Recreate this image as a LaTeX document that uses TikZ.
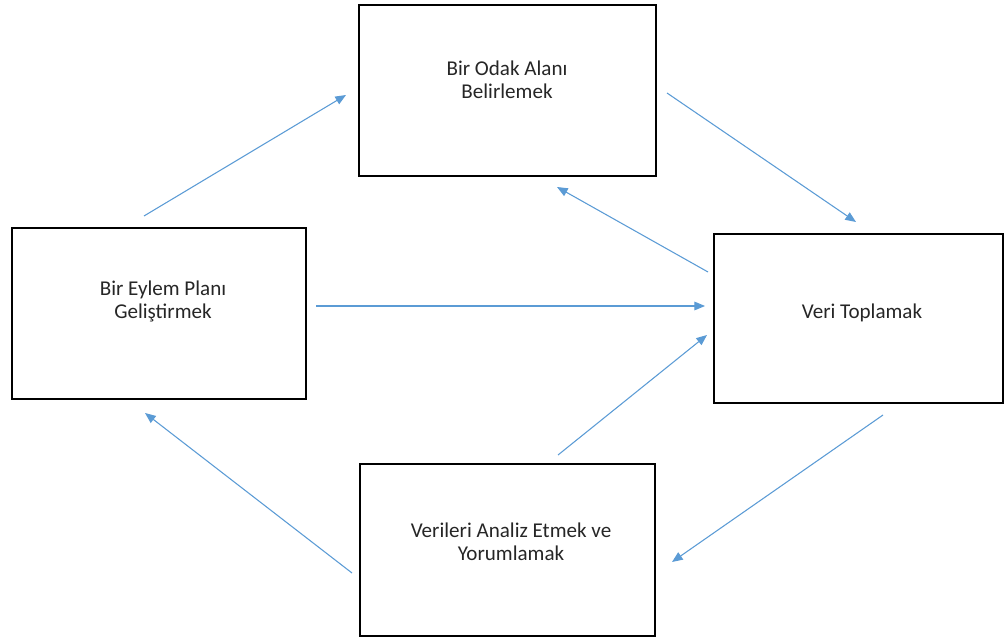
\documentclass[tikz,border=0pt]{standalone}
\usepackage{fontspec}
\setmainfont{Carlito}
\usetikzlibrary{arrows.meta}
\definecolor{okmavi}{HTML}{5B9BD5}
\begin{document}
\begin{tikzpicture}[x=0.75pt, y=-0.75pt,
    kutu/.style = {draw, line width=1.5pt, rectangle, inner sep=0pt},
    yazi/.style = {align=center, inner sep=0pt, text=black!85, font=\fontsize{15.8}{17.2}\selectfont},
    ok/.style = {draw=okmavi, line width=0.8pt, -{Triangle[length=8pt, width=6.5pt]}}]
    \useasboundingbox (0,0) rectangle (1005,641);

    % kutular
    \node[kutu, minimum width=222.75pt, minimum height=128.25pt] (odak) at (507.5,90.5) {};
    \node[kutu, minimum width=220.5pt, minimum height=128.25pt] (eylem) at (159,313.5) {};
    \node[kutu, minimum width=216.75pt, minimum height=126.75pt] (veri) at (858.5,318.5) {};
    \node[kutu, minimum width=221.25pt, minimum height=129pt] (analiz) at (507.5,550) {};

    % yazilar
    \node[yazi] (odakyazi) at (507,80) {Bir Odak Alanı\\Belirlemek};
    \node[yazi] (eylemyazi) at (163,301) {Bir Eylem Planı\\Geliştirmek};
    \node[yazi] (veriyazi) at (862,313) {Veri Toplamak};
    \node[yazi] (analizyazi) at (511,542) {Verileri Analiz Etmek ve\\Yorumlamak};

    % ok uclari
    \coordinate (e1) at (144,216);  \coordinate (o1) at (346,95);
    \coordinate (o2) at (667,93);   \coordinate (v2) at (856,222);
    \coordinate (v3) at (708,272);  \coordinate (o3) at (557,187);
    \coordinate (e4) at (316,306);  \coordinate (v4) at (705,306);
    \coordinate (a5) at (558,455);  \coordinate (v5) at (707,335);
    \coordinate (v6) at (883,415);  \coordinate (a6) at (672,562);
    \coordinate (a7) at (352,573);  \coordinate (e7) at (145,413);

    \draw[ok] (e1) -- (o1);
    \draw[ok] (o2) -- (v2);
    \draw[ok] (v3) -- (o3);
    \draw[ok] (e4) -- (v4);
    \draw[ok] (a5) -- (v5);
    \draw[ok] (v6) -- (a6);
    \draw[ok] (a7) -- (e7);
\end{tikzpicture}
\end{document}
